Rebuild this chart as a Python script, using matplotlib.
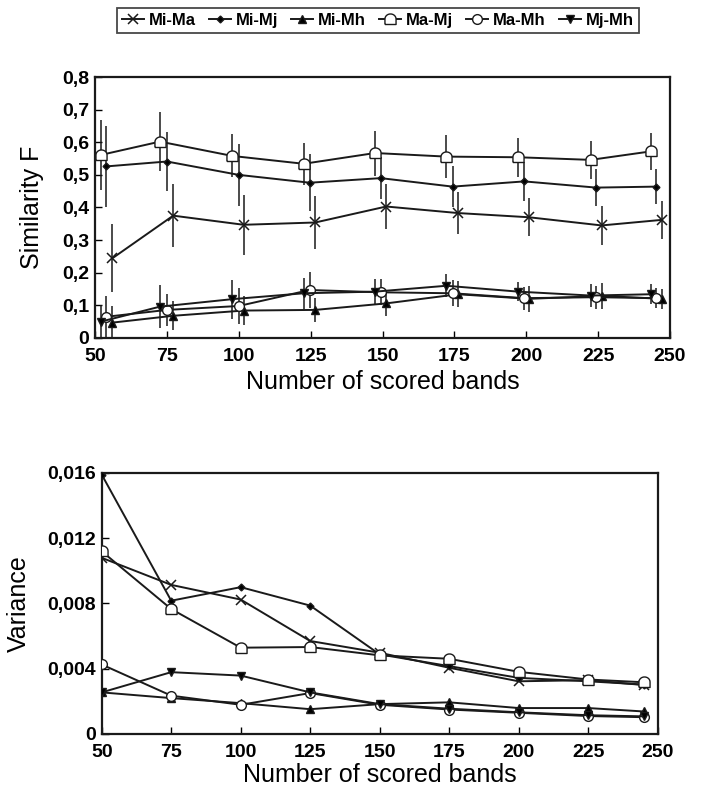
import numpy as np
import matplotlib
matplotlib.use('Agg')
import matplotlib.pyplot as plt
from matplotlib.ticker import FuncFormatter, MultipleLocator

plt.rcParams['font.family'] = ['Liberation Sans', 'DejaVu Sans']

# top panel: x positions are slightly shifted per group so error bars don't overlap
x_left = [52, 72.6, 97.8, 122.6, 147.4, 172.2, 197.3, 222.4, 243.3]
x_mid = [54, 75, 100, 124.7, 149.4, 174.4, 199.3, 224.3, 245.2]
x_right = [56, 77.2, 101.7, 126.6, 151.3, 176.2, 201, 226.2, 247.1]

simF = {
    'Mi-Ma': [0.244, 0.375, 0.347, 0.354, 0.403, 0.383, 0.370, 0.345, 0.362],
    'Mi-Mj': [0.526, 0.541, 0.500, 0.476, 0.490, 0.464, 0.480, 0.461, 0.464],
    'Mi-Mh': [0.047, 0.068, 0.084, 0.086, 0.106, 0.134, 0.120, 0.129, 0.120],
    'Ma-Mj': [0.561, 0.602, 0.558, 0.534, 0.567, 0.556, 0.554, 0.546, 0.572],
    'Ma-Mh': [0.065, 0.086, 0.098, 0.147, 0.140, 0.137, 0.122, 0.125, 0.122],
    'Mj-Mh': [0.050, 0.096, 0.119, 0.137, 0.142, 0.160, 0.142, 0.130, 0.134],
}
simF_err = {
    'Mi-Ma': [0.104, 0.097, 0.092, 0.080, 0.070, 0.064, 0.058, 0.059, 0.059],
    'Mi-Mj': [0.125, 0.090, 0.096, 0.087, 0.065, 0.063, 0.060, 0.056, 0.054],
    'Mi-Mh': [0.050, 0.045, 0.045, 0.036, 0.040, 0.040, 0.040, 0.040, 0.030],
    'Ma-Mj': [0.107, 0.090, 0.066, 0.064, 0.069, 0.066, 0.060, 0.059, 0.056],
    'Ma-Mh': [0.065, 0.050, 0.055, 0.056, 0.040, 0.040, 0.035, 0.035, 0.030],
    'Mj-Mh': [0.050, 0.065, 0.060, 0.048, 0.040, 0.035, 0.030, 0.035, 0.030],
}
xpos = {'Mi-Ma': x_right, 'Mi-Mj': x_mid, 'Mi-Mh': x_right,
        'Ma-Mj': x_left, 'Ma-Mh': x_mid, 'Mj-Mh': x_left}

# bottom panel
bands = [50, 75, 100, 125, 150, 175, 200, 225, 245]
variance = {
    'Mi-Ma': [0.0108, 0.00914, 0.00824, 0.0057, 0.00498, 0.00406, 0.00323, 0.0033, 0.0030],
    'Mi-Mj': [0.0159, 0.00817, 0.0090, 0.00787, 0.00488, 0.00416, 0.00344, 0.00323, 0.00303],
    'Mi-Mh': [0.00255, 0.0022, 0.00189, 0.00152, 0.00183, 0.00194, 0.00159, 0.00159, 0.00138],
    'Ma-Mj': [0.0112, 0.00766, 0.00529, 0.00533, 0.00482, 0.00461, 0.00381, 0.00334, 0.00317],
    'Ma-Mh': [0.00426, 0.00235, 0.00179, 0.00251, 0.00179, 0.0015, 0.0013, 0.0011, 0.00103],
    'Mj-Mh': [0.00255, 0.00379, 0.00358, 0.00255, 0.00183, 0.00155, 0.00133, 0.00115, 0.00108],
}

# dome shaped marker for Ma-Mj
t = np.linspace(0, np.pi, 12)
dome = [(-1, -0.9), (1, -0.9)] + [(np.cos(a), 0.1 + 0.9 * np.sin(a)) for a in t] + [(-1, -0.9)]

style = {
    'Mi-Ma': dict(marker='x', ms=7, mfc='k', mew=1.1),
    'Mi-Mj': dict(marker='D', ms=3.5, mfc='k', mew=1),
    'Mi-Mh': dict(marker='^', ms=5.5, mfc='k', mew=1),
    'Ma-Mj': dict(marker=dome, ms=8, mfc='white', mew=1),
    'Ma-Mh': dict(marker='o', ms=7, mfc='white', mew=1),
    'Mj-Mh': dict(marker='v', ms=5.5, mfc='k', mew=1),
}
col = '#1a1a1a'

fig = plt.figure(figsize=(7.01, 7.90), dpi=100)
ax1 = fig.add_axes([0.1355, 0.5722, 0.8203, 0.3303])
ax2 = fig.add_axes([0.1451, 0.0709, 0.7931, 0.3304])

for name in simF:
    ax1.errorbar(xpos[name], simF[name], yerr=simF_err[name], fmt='none',
                 ecolor=col, elinewidth=1.1, capsize=0, zorder=2)
    ax1.plot(xpos[name], simF[name], color=col, lw=1.4, mec=col,
             label=name, zorder=3, **style[name])
    ax2.plot(bands, variance[name], color=col, lw=1.4, mec=col,
             zorder=3, **style[name])

ax1.set_xlim(50, 250)
ax1.set_ylim(0, 0.8)
ax1.yaxis.set_major_locator(MultipleLocator(0.1))
ax1.yaxis.set_major_formatter(FuncFormatter(
    lambda v, p: '0' if abs(v) < 1e-9 else ('%.1f' % v).replace('.', ',')))
ax1.set_ylabel('Similarity F', fontsize=18, labelpad=13)
ax1.set_xlabel('Number of scored bands', fontsize=18, labelpad=4)

ax2.set_xlim(50, 250)
ax2.set_ylim(0, 0.016)
ax2.yaxis.set_major_locator(MultipleLocator(0.004))
ax2.yaxis.set_major_formatter(FuncFormatter(
    lambda v, p: '0' if abs(v) < 1e-9 else ('%.3f' % v).replace('.', ',')))
ax2.set_ylabel('Variance', fontsize=18, labelpad=12)
ax2.set_xlabel('Number of scored bands', fontsize=18, labelpad=2)

for ax in (ax1, ax2):
    ax.xaxis.set_major_locator(MultipleLocator(25))
    ax.tick_params(direction='in', length=5, width=1, labelsize=14)
    ax.tick_params(axis='x', pad=7)
    ax.tick_params(axis='y', pad=4)
    for lab in ax.get_xticklabels() + ax.get_yticklabels():
        lab.set_fontweight('bold')
    for sp in ax.spines.values():
        sp.set_linewidth(1.6)
        sp.set_color(col)

leg = fig.legend(loc='upper center', bbox_to_anchor=(0.539, 0.99), ncol=6,
                 frameon=True, fancybox=False, edgecolor=col, handlelength=1.3,
                 handletextpad=0.3, columnspacing=0.8, borderpad=0.3,
                 borderaxespad=0, prop={'size': 12, 'weight': 'bold'})
leg.get_frame().set_linewidth(1.3)

fig.savefig('out.png', dpi=100)
